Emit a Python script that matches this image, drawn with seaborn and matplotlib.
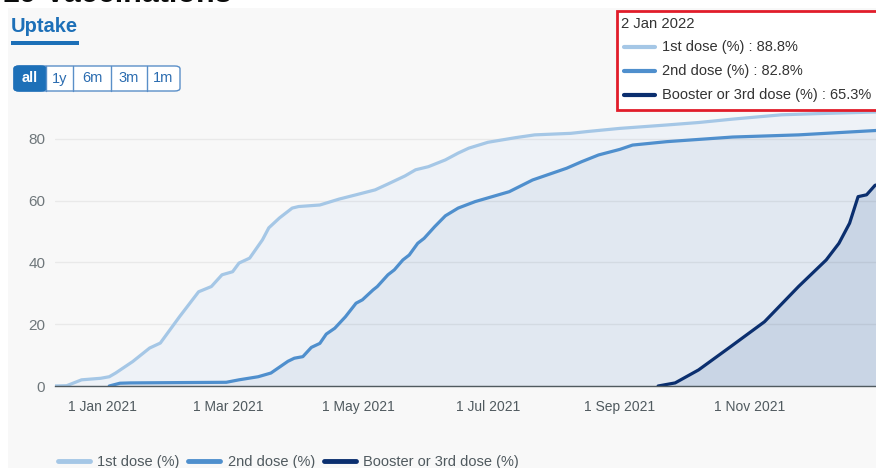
import matplotlib
matplotlib.use("Agg")
import matplotlib.pyplot as plt
import matplotlib.dates as mdates
from matplotlib.patches import Rectangle, FancyBboxPatch
from matplotlib.lines import Line2D
import pandas as pd
import seaborn as sns

# --- data (cumulative uptake, %) ---
first_dates = ["2020-12-09", "2020-12-15", "2020-12-22", "2020-12-31", "2021-01-04", "2021-01-07",
               "2021-01-15", "2021-01-23", "2021-01-28", "2021-02-06", "2021-02-15", "2021-02-21",
               "2021-02-26", "2021-03-03", "2021-03-06", "2021-03-11", "2021-03-17", "2021-03-20",
               "2021-03-25", "2021-03-31", "2021-04-03", "2021-04-13", "2021-04-22", "2021-04-30",
               "2021-05-09", "2021-05-15", "2021-05-23", "2021-05-28", "2021-06-03", "2021-06-11",
               "2021-06-17", "2021-06-22", "2021-07-01", "2021-07-14", "2021-07-23", "2021-08-09",
               "2021-08-17", "2021-09-01", "2021-09-23", "2021-10-08", "2021-10-24", "2021-11-16",
               "2021-12-04", "2021-12-30", "2022-01-02"]
first_vals = [0.0, 0.1, 2.0, 2.5, 3.0, 4.2,
              7.9, 12.3, 13.9, 22.4, 30.5, 32.2,
              36.0, 37.0, 39.8, 41.4, 47.3, 51.2,
              54.4, 57.6, 58.1, 58.6, 60.5, 61.9,
              63.5, 65.4, 68.0, 70.0, 71.0, 73.2,
              75.4, 77.0, 78.9, 80.4, 81.3, 81.8,
              82.4, 83.4, 84.5, 85.3, 86.4, 87.8,
              88.2, 88.7, 88.8]

second_dates = ["2021-01-04", "2021-01-09", "2021-01-14", "2021-02-28", "2021-03-06", "2021-03-15",
                "2021-03-21", "2021-03-29", "2021-04-01", "2021-04-05", "2021-04-09", "2021-04-13",
                "2021-04-16", "2021-04-20", "2021-04-25", "2021-04-30", "2021-05-03", "2021-05-08",
                "2021-05-10", "2021-05-15", "2021-05-18", "2021-05-22", "2021-05-25", "2021-05-29",
                "2021-06-01", "2021-06-06", "2021-06-11", "2021-06-17", "2021-06-25", "2021-07-11",
                "2021-07-22", "2021-08-07", "2021-08-14", "2021-08-22", "2021-09-01", "2021-09-07",
                "2021-09-23", "2021-10-24", "2021-11-24", "2021-12-30", "2022-01-02"]
second_vals = [0.0, 0.9, 1.0, 1.2, 2.0, 3.0,
               4.2, 8.0, 9.0, 9.5, 12.5, 13.8,
               16.8, 18.7, 22.4, 26.8, 27.9, 31.1,
               32.2, 36.0, 37.6, 40.8, 42.4, 46.2,
               47.8, 51.6, 55.1, 57.6, 59.7, 62.9,
               66.7, 70.5, 72.6, 74.8, 76.6, 78.0,
               79.1, 80.6, 81.3, 82.7, 82.8]

booster_dates = ["2021-09-19", "2021-09-27", "2021-10-08", "2021-10-23", "2021-11-08", "2021-11-24",
                 "2021-12-07", "2021-12-13", "2021-12-18", "2021-12-22", "2021-12-26", "2021-12-30",
                 "2022-01-02"]
booster_vals = [0.0, 1.0, 5.2, 12.7, 20.8, 32.2,
                40.8, 46.2, 52.7, 61.3, 61.9, 65.0,
                65.3]

series_names = ["1st dose (%)", "2nd dose (%)", "Booster or 3rd dose (%)"]
line_colors = ["#a5c7e6", "#4f8fcd", "#0b2f6f"]
fill_colors = ["#eef2f7", "#e1e8f1", "#c9d5e5"]
tooltip_date = "2 Jan 2022"

W, H = 876, 468


def fx(x):
    return x / W


def fy(y):
    return 1 - y / H


frames = []
for name, d, v in zip(series_names, [first_dates, second_dates, booster_dates],
                      [first_vals, second_vals, booster_vals]):
    frames.append(pd.DataFrame({"date": pd.to_datetime(d), "value": v, "series": name}))
df = pd.concat(frames, ignore_index=True)

sns.set_style("white")
plt.rcParams["font.family"] = ["Liberation Sans", "DejaVu Sans"]

fig = plt.figure(figsize=(W / 100, H / 100), dpi=100)
fig.patch.set_facecolor("white")
fig.add_artist(Rectangle((fx(8), 0), 1 - fx(8), fy(8), transform=fig.transFigure,
                         facecolor="#f8f8f8", edgecolor="none", zorder=0))

# page title, cut off by the top edge as in the screenshot
fig.text(fx(232), fy(1.5), "COVID-19 Vaccinations", ha="right", va="baseline",
         size=22, weight="bold", color="#0b0c0c")

# tab
fig.text(fx(11), fy(26), "Uptake", ha="left", va="center", size=14.5, weight="bold", color="#1d70b8")
fig.add_artist(Rectangle((fx(11), fy(45)), fx(79) - fx(11), fy(41) - fy(45), transform=fig.transFigure,
                         facecolor="#1d70b8", edgecolor="none"))

# range buttons
btn_labels = ["all", "1y", "6m", "3m", "1m"]
btn_edges = [14, 46, 73, 111, 147, 180]
y0, y1 = 66, 91
fig.add_artist(FancyBboxPatch((fx(14), fy(y1)), fx(180) - fx(14), fy(y0) - fy(y1),
                              boxstyle="round,pad=0,rounding_size=0.006", transform=fig.transFigure,
                              facecolor="white", edgecolor="#5a8fc8", lw=1))
fig.add_artist(FancyBboxPatch((fx(14), fy(y1)), fx(46) - fx(14), fy(y0) - fy(y1),
                              boxstyle="round,pad=0,rounding_size=0.006", transform=fig.transFigure,
                              facecolor="#1d70b8", edgecolor="#1d70b8", lw=1))
for i, lab in enumerate(btn_labels):
    cx = (btn_edges[i] + btn_edges[i + 1]) / 2
    if i > 0:
        fig.add_artist(Line2D([fx(btn_edges[i])] * 2, [fy(y0), fy(y1)], transform=fig.transFigure,
                              color="#5a8fc8", lw=1))
    fig.text(fx(cx), fy((y0 + y1) / 2), lab, ha="center", va="center", size=10.5,
             color="white" if i == 0 else "#2b6cb0", weight="bold" if i == 0 else "normal")

# main axes
ax = fig.add_axes([fx(55), fy(386), 1 - fx(55), fy(108) - fy(386)])
ax.set_facecolor("none")

for name, fc in zip(series_names, fill_colors):
    sub = df[df["series"] == name]
    ax.fill_between(sub["date"], sub["value"], 0, color=fc, lw=0, zorder=1)

sns.lineplot(data=df, x="date", y="value", hue="series", palette=line_colors,
             linewidth=2.3, legend=False, ax=ax, zorder=2)

ax.set_xlim(pd.Timestamp("2020-12-09 12:00"), pd.Timestamp("2021-12-30 10:00"))
ax.set_ylim(0, 90)
ax.set_yticks([0, 20, 40, 60, 80])
ax.set_axisbelow("line")
ax.yaxis.grid(True, color="#000000", alpha=0.06, lw=1)
ax.xaxis.grid(False)
ax.set_xlabel("")
ax.set_ylabel("")
for s in ["top", "right", "left"]:
    ax.spines[s].set_visible(False)
ax.spines["bottom"].set_color("#505a5f")
ax.spines["bottom"].set_linewidth(1)

ax.xaxis.set_major_locator(mdates.MonthLocator(bymonth=[1, 3, 5, 7, 9, 11]))
ax.xaxis.set_major_formatter(mdates.DateFormatter("%-d %b %Y"))
ax.tick_params(axis="x", length=4, width=1, color="#505a5f", pad=6, labelsize=10, labelcolor="#505a5f")
ax.tick_params(axis="y", length=0, pad=7, labelsize=11, labelcolor="#6f777b")

# bottom legend
handles = [Line2D([0], [0], color=c, lw=3.5) for c in line_colors]
fig.legend(handles, series_names, loc="center left", bbox_to_anchor=(fx(52), fy(462)), ncol=3,
           frameon=False, handlelength=2.2, handletextpad=0.5, columnspacing=0.6,
           prop={"size": 10.5}, labelcolor="#505a5f", borderaxespad=0)

# tooltip
fig.add_artist(Rectangle((fx(617), fy(110)), fx(882) - fx(617), fy(11) - fy(110), transform=fig.transFigure,
                         facecolor="white", edgecolor="#e11d2a", lw=2, zorder=5))
fig.text(fx(621), fy(24), tooltip_date, ha="left", va="center", size=10.6, color="#333333", zorder=6)
last_vals = [first_vals[-1], second_vals[-1], booster_vals[-1]]
for i, (name, c, v) in enumerate(zip(series_names, line_colors, last_vals)):
    yy = 47 + 24 * i
    fig.add_artist(Line2D([fx(624), fx(655)], [fy(yy)] * 2, transform=fig.transFigure,
                          color=c, lw=3, zorder=6))
    fig.text(fx(662), fy(yy), f"{name} : {v}%", ha="left", va="center", size=10.5,
             color="#333333", zorder=6)

fig.savefig("out.png", dpi=100)
